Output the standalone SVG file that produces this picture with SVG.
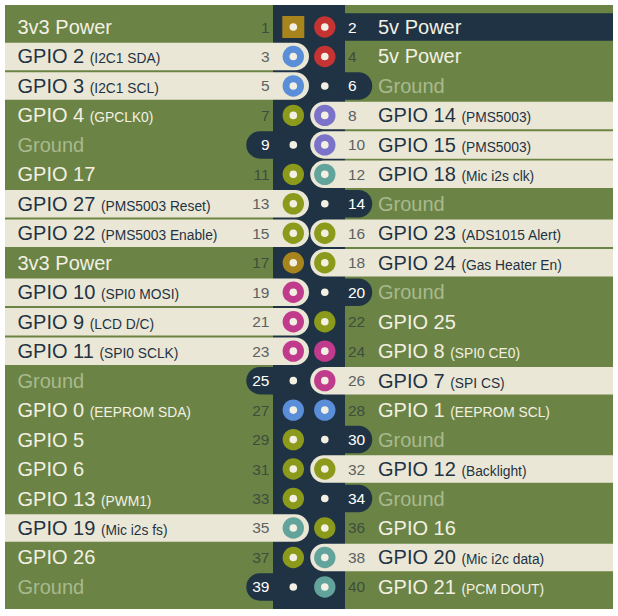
<svg xmlns="http://www.w3.org/2000/svg" width="618" height="616" viewBox="0 0 618 616">
<style>
.bg{fill:#6b8445}
.col{fill:#1f3344}
.hl{fill:#ebe7d6}
.gnd{fill:#1f3344}
text{font-family:"Liberation Sans",Arial,sans-serif}
.t{font-size:20px}
.s{font-size:13.8px}
.tw{fill:#f3f0e3}
.tn{fill:#1f3344}
.tg{fill:#a9b98e}
.n{font-size:15.5px}
.nl{text-anchor:end}
.nw{fill:#ffffff}
.ng{fill:#3e4d3c}
.nc{fill:#5c6163}
.dot{fill:#f3f0e3}
.gold{fill:#a8841c}
.red{fill:#c53332}
.blue{fill:#5a8ed8}
.purple{fill:#7b73c9}
.teal{fill:#62a39c}
.olive{fill:#8c9a1c}
.mag{fill:#c13b8c}
</style>
<defs>
<path id="barL" d="M5,-13.75 H295.25 A13.75,13.75 0 0 1 295.25,13.75 H5 Z"/>
<path id="barR" d="M613,-13.75 H324 A13.75,13.75 0 0 0 324,13.75 H613 Z"/>
<path id="gndL" d="M285,-13.75 H260 A13.75,13.75 0 0 0 260,13.75 H285 Z"/>
<path id="gndR" d="M333,-13.75 H358.5 A13.75,13.75 0 0 1 358.5,13.75 H333 Z"/>
<circle id="pinL" cx="293.3" cy="0" r="10.7"/>
<circle id="pinR" cx="324.8" cy="0" r="10.7"/>
<circle id="dotL" cx="293.3" cy="0" r="3.8"/>
<circle id="dotR" cx="324.8" cy="0" r="3.8"/>
</defs>
<rect class="bg" x="5" y="5" width="608" height="604"/>
<rect class="col" x="273" y="5" width="72" height="604"/>
<g id="connectors"></g>

<g id="pin1" transform="translate(0,27)">
<rect class="gold" x="282.3" y="-11" width="22" height="22"/>
<use href="#dotL" class="dot"/>
<text class="n nl ng" x="269.5" y="5.5">1</text>
<text class="t tw" x="17.5" y="7">3v3 Power</text>
</g>
<g id="pin2" transform="translate(0,27)">
<rect class="gnd" x="340" y="-13.75" width="273" height="27.5"/>
<use href="#pinR" class="red"/><use href="#dotR" class="dot"/>
<text class="n nw" x="348" y="5.5">2</text>
<text class="t tw" x="378" y="7">5v Power</text>
</g>

<g id="pin3" transform="translate(0,56.47)">
<use href="#barL" class="hl"/>
<use href="#pinL" class="blue"/><use href="#dotL" class="dot"/>
<text class="n nl nc" x="269.5" y="5.5">3</text>
<text class="t tn" x="17.5" y="7">GPIO 2 <tspan class="s">(I2C1 SDA)</tspan></text>
</g>
<g id="pin4" transform="translate(0,56.47)">
<use href="#pinR" class="red"/><use href="#dotR" class="dot"/>
<text class="n ng" x="348" y="5.5">4</text>
<text class="t tw" x="378" y="7">5v Power</text>
</g>

<g id="pin5" transform="translate(0,85.94)">
<use href="#barL" class="hl"/>
<use href="#pinL" class="blue"/><use href="#dotL" class="dot"/>
<text class="n nl nc" x="269.5" y="5.5">5</text>
<text class="t tn" x="17.5" y="7">GPIO 3 <tspan class="s">(I2C1 SCL)</tspan></text>
</g>
<g id="pin6" transform="translate(0,85.94)">
<use href="#gndR" class="gnd"/>
<use href="#dotR" class="dot"/>
<text class="n nw" x="348" y="5.5">6</text>
<text class="t tg" x="378" y="7">Ground</text>
</g>

<g id="pin7" transform="translate(0,115.41)">
<use href="#pinL" class="olive"/><use href="#dotL" class="dot"/>
<text class="n nl ng" x="269.5" y="5.5">7</text>
<text class="t tw" x="17.5" y="7">GPIO 4 <tspan class="s">(GPCLK0)</tspan></text>
</g>
<g id="pin8" transform="translate(0,115.41)">
<use href="#barR" class="hl"/>
<use href="#pinR" class="purple"/><use href="#dotR" class="dot"/>
<text class="n nc" x="348" y="5.5">8</text>
<text class="t tn" x="378" y="7">GPIO 14 <tspan class="s">(PMS5003)</tspan></text>
</g>

<g id="pin9" transform="translate(0,144.88)">
<use href="#gndL" class="gnd"/>
<use href="#dotL" class="dot"/>
<text class="n nl nw" x="269.5" y="5.5">9</text>
<text class="t tg" x="17.5" y="7">Ground</text>
</g>
<g id="pin10" transform="translate(0,144.88)">
<use href="#barR" class="hl"/>
<use href="#pinR" class="purple"/><use href="#dotR" class="dot"/>
<text class="n nc" x="348" y="5.5">10</text>
<text class="t tn" x="378" y="7">GPIO 15 <tspan class="s">(PMS5003)</tspan></text>
</g>

<g id="pin11" transform="translate(0,174.35)">
<use href="#pinL" class="olive"/><use href="#dotL" class="dot"/>
<text class="n nl ng" x="269.5" y="5.5">11</text>
<text class="t tw" x="17.5" y="7">GPIO 17</text>
</g>
<g id="pin12" transform="translate(0,174.35)">
<use href="#barR" class="hl"/>
<use href="#pinR" class="teal"/><use href="#dotR" class="dot"/>
<text class="n nc" x="348" y="5.5">12</text>
<text class="t tn" x="378" y="7">GPIO 18 <tspan class="s">(Mic i2s clk)</tspan></text>
</g>

<g id="pin13" transform="translate(0,203.82)">
<use href="#barL" class="hl"/>
<use href="#pinL" class="olive"/><use href="#dotL" class="dot"/>
<text class="n nl nc" x="269.5" y="5.5">13</text>
<text class="t tn" x="17.5" y="7">GPIO 27 <tspan class="s">(PMS5003 Reset)</tspan></text>
</g>
<g id="pin14" transform="translate(0,203.82)">
<use href="#gndR" class="gnd"/>
<use href="#dotR" class="dot"/>
<text class="n nw" x="348" y="5.5">14</text>
<text class="t tg" x="378" y="7">Ground</text>
</g>

<g id="pin15" transform="translate(0,233.29)">
<use href="#barL" class="hl"/>
<use href="#pinL" class="olive"/><use href="#dotL" class="dot"/>
<text class="n nl nc" x="269.5" y="5.5">15</text>
<text class="t tn" x="17.5" y="7">GPIO 22 <tspan class="s">(PMS5003 Enable)</tspan></text>
</g>
<g id="pin16" transform="translate(0,233.29)">
<use href="#barR" class="hl"/>
<use href="#pinR" class="olive"/><use href="#dotR" class="dot"/>
<text class="n nc" x="348" y="5.5">16</text>
<text class="t tn" x="378" y="7">GPIO 23 <tspan class="s">(ADS1015 Alert)</tspan></text>
</g>

<g id="pin17" transform="translate(0,262.76)">
<use href="#pinL" class="gold"/><use href="#dotL" class="dot"/>
<text class="n nl ng" x="269.5" y="5.5">17</text>
<text class="t tw" x="17.5" y="7">3v3 Power</text>
</g>
<g id="pin18" transform="translate(0,262.76)">
<use href="#barR" class="hl"/>
<use href="#pinR" class="olive"/><use href="#dotR" class="dot"/>
<text class="n nc" x="348" y="5.5">18</text>
<text class="t tn" x="378" y="7">GPIO 24 <tspan class="s">(Gas Heater En)</tspan></text>
</g>

<g id="pin19" transform="translate(0,292.23)">
<use href="#barL" class="hl"/>
<use href="#pinL" class="mag"/><use href="#dotL" class="dot"/>
<text class="n nl nc" x="269.5" y="5.5">19</text>
<text class="t tn" x="17.5" y="7">GPIO 10 <tspan class="s">(SPI0 MOSI)</tspan></text>
</g>
<g id="pin20" transform="translate(0,292.23)">
<use href="#gndR" class="gnd"/>
<use href="#dotR" class="dot"/>
<text class="n nw" x="348" y="5.5">20</text>
<text class="t tg" x="378" y="7">Ground</text>
</g>

<g id="pin21" transform="translate(0,321.7)">
<use href="#barL" class="hl"/>
<use href="#pinL" class="mag"/><use href="#dotL" class="dot"/>
<text class="n nl nc" x="269.5" y="5.5">21</text>
<text class="t tn" x="17.5" y="7">GPIO 9 <tspan class="s">(LCD D/C)</tspan></text>
</g>
<g id="pin22" transform="translate(0,321.7)">
<use href="#pinR" class="olive"/><use href="#dotR" class="dot"/>
<text class="n ng" x="348" y="5.5">22</text>
<text class="t tw" x="378" y="7">GPIO 25</text>
</g>

<g id="pin23" transform="translate(0,351.17)">
<use href="#barL" class="hl"/>
<use href="#pinL" class="mag"/><use href="#dotL" class="dot"/>
<text class="n nl nc" x="269.5" y="5.5">23</text>
<text class="t tn" x="17.5" y="7">GPIO 11 <tspan class="s">(SPI0 SCLK)</tspan></text>
</g>
<g id="pin24" transform="translate(0,351.17)">
<use href="#pinR" class="mag"/><use href="#dotR" class="dot"/>
<text class="n ng" x="348" y="5.5">24</text>
<text class="t tw" x="378" y="7">GPIO 8 <tspan class="s">(SPI0 CE0)</tspan></text>
</g>

<g id="pin25" transform="translate(0,380.64)">
<use href="#gndL" class="gnd"/>
<use href="#dotL" class="dot"/>
<text class="n nl nw" x="269.5" y="5.5">25</text>
<text class="t tg" x="17.5" y="7">Ground</text>
</g>
<g id="pin26" transform="translate(0,380.64)">
<use href="#barR" class="hl"/>
<use href="#pinR" class="mag"/><use href="#dotR" class="dot"/>
<text class="n nc" x="348" y="5.5">26</text>
<text class="t tn" x="378" y="7">GPIO 7 <tspan class="s">(SPI CS)</tspan></text>
</g>

<g id="pin27" transform="translate(0,410.11)">
<use href="#pinL" class="blue"/><use href="#dotL" class="dot"/>
<text class="n nl ng" x="269.5" y="5.5">27</text>
<text class="t tw" x="17.5" y="7">GPIO 0 <tspan class="s">(EEPROM SDA)</tspan></text>
</g>
<g id="pin28" transform="translate(0,410.11)">
<use href="#pinR" class="blue"/><use href="#dotR" class="dot"/>
<text class="n ng" x="348" y="5.5">28</text>
<text class="t tw" x="378" y="7">GPIO 1 <tspan class="s">(EEPROM SCL)</tspan></text>
</g>

<g id="pin29" transform="translate(0,439.58)">
<use href="#pinL" class="olive"/><use href="#dotL" class="dot"/>
<text class="n nl ng" x="269.5" y="5.5">29</text>
<text class="t tw" x="17.5" y="7">GPIO 5</text>
</g>
<g id="pin30" transform="translate(0,439.58)">
<use href="#gndR" class="gnd"/>
<use href="#dotR" class="dot"/>
<text class="n nw" x="348" y="5.5">30</text>
<text class="t tg" x="378" y="7">Ground</text>
</g>

<g id="pin31" transform="translate(0,469.05)">
<use href="#pinL" class="olive"/><use href="#dotL" class="dot"/>
<text class="n nl ng" x="269.5" y="5.5">31</text>
<text class="t tw" x="17.5" y="7">GPIO 6</text>
</g>
<g id="pin32" transform="translate(0,469.05)">
<use href="#barR" class="hl"/>
<use href="#pinR" class="olive"/><use href="#dotR" class="dot"/>
<text class="n nc" x="348" y="5.5">32</text>
<text class="t tn" x="378" y="7">GPIO 12 <tspan class="s">(Backlight)</tspan></text>
</g>

<g id="pin33" transform="translate(0,498.52)">
<use href="#pinL" class="olive"/><use href="#dotL" class="dot"/>
<text class="n nl ng" x="269.5" y="5.5">33</text>
<text class="t tw" x="17.5" y="7">GPIO 13 <tspan class="s">(PWM1)</tspan></text>
</g>
<g id="pin34" transform="translate(0,498.52)">
<use href="#gndR" class="gnd"/>
<use href="#dotR" class="dot"/>
<text class="n nw" x="348" y="5.5">34</text>
<text class="t tg" x="378" y="7">Ground</text>
</g>

<g id="pin35" transform="translate(0,527.99)">
<use href="#barL" class="hl"/>
<use href="#pinL" class="teal"/><use href="#dotL" class="dot"/>
<text class="n nl nc" x="269.5" y="5.5">35</text>
<text class="t tn" x="17.5" y="7">GPIO 19 <tspan class="s">(Mic i2s fs)</tspan></text>
</g>
<g id="pin36" transform="translate(0,527.99)">
<use href="#pinR" class="olive"/><use href="#dotR" class="dot"/>
<text class="n ng" x="348" y="5.5">36</text>
<text class="t tw" x="378" y="7">GPIO 16</text>
</g>

<g id="pin37" transform="translate(0,557.46)">
<use href="#pinL" class="olive"/><use href="#dotL" class="dot"/>
<text class="n nl ng" x="269.5" y="5.5">37</text>
<text class="t tw" x="17.5" y="7">GPIO 26</text>
</g>
<g id="pin38" transform="translate(0,557.46)">
<use href="#barR" class="hl"/>
<use href="#pinR" class="teal"/><use href="#dotR" class="dot"/>
<text class="n nc" x="348" y="5.5">38</text>
<text class="t tn" x="378" y="7">GPIO 20 <tspan class="s">(Mic i2c data)</tspan></text>
</g>

<g id="pin39" transform="translate(0,586.93)">
<use href="#gndL" class="gnd"/>
<use href="#dotL" class="dot"/>
<text class="n nl nw" x="269.5" y="5.5">39</text>
<text class="t tg" x="17.5" y="7">Ground</text>
</g>
<g id="pin40" transform="translate(0,586.93)">
<use href="#pinR" class="teal"/><use href="#dotR" class="dot"/>
<text class="n ng" x="348" y="5.5">40</text>
<text class="t tw" x="378" y="7">GPIO 21 <tspan class="s">(PCM DOUT)</tspan></text>
</g>
</svg>
